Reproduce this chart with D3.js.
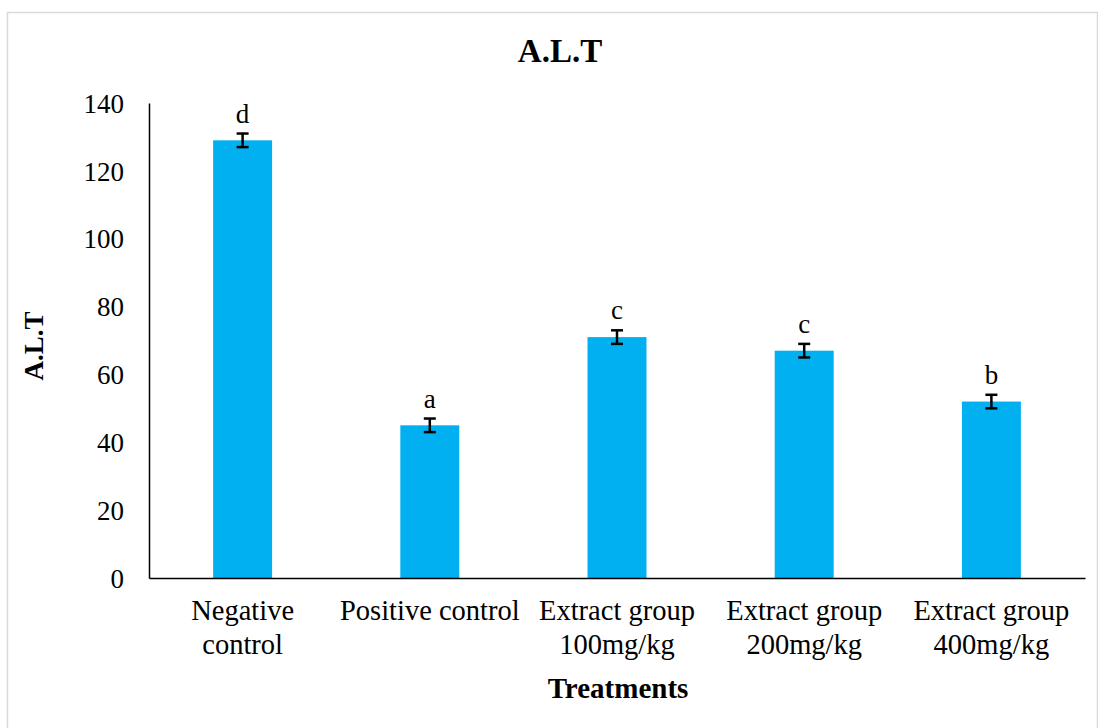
<!DOCTYPE html>
<html><head><meta charset="utf-8">
<script src="https://cdn.jsdelivr.net/npm/d3@7"></script>
<style>body{margin:0;background:#fff}svg{display:block}svg text{font-family:"Liberation Serif","Times New Roman",serif !important;fill:#000}</style>
</head><body>
<script>
const categories = [["Negative","control"],["Positive control"],["Extract group","100mg/kg"],["Extract group","200mg/kg"],["Extract group","400mg/kg"]];
const values = [129, 45, 71, 67, 52];
const errors = [2, 2, 2, 2, 2];
const letters = ["d","a","c","c","b"];
const yTicks = [0,20,40,60,80,100,120,140];
const title = "A.L.T", yTitle = "A.L.T", xTitle = "Treatments";

const W=1098,H=728;
const m={left:149,right:1085,top:103,bottom:578};
const svg=d3.select("body").append("svg").attr("width",W).attr("height",H);
svg.append("rect").attr("x",7.5).attr("y",12.5).attr("width",1090).attr("height",730)
  .attr("fill","#fff").attr("stroke","#d9d9d9").attr("stroke-width",1.5);

const idx=d3.range(values.length);
const x=d3.scaleBand().domain(idx).range([m.left,m.right]).padding(0);
const y=d3.scaleLinear().domain([0,140]).range([m.bottom,m.top]);
const bw=x.bandwidth()*0.315;
const serif='"Liberation Serif","Times New Roman",serif';

// y axis
const ya=svg.append("g").attr("transform",`translate(${m.left},0)`)
  .call(d3.axisLeft(y).tickValues(yTicks).tickSize(0).tickPadding(25));
ya.attr("font-family",null);
ya.select(".domain").attr("stroke","#000").attr("stroke-width",1.5);
ya.selectAll("text").attr("font-size",27).style("font-family",serif).attr("dy","0.34em");

// bars
svg.append("g").selectAll("rect").data(idx).join("rect")
  .attr("x",i=>x(i)+x.bandwidth()/2-bw/2).attr("width",bw)
  .attr("y",i=>y(values[i])).attr("height",i=>y(0)-y(values[i]))
  .attr("fill","#00B0F0");

// error bars
const eb=svg.append("g").attr("stroke","#000").attr("stroke-width",2.5);
idx.forEach(i=>{
  const cx=x(i)+x.bandwidth()/2;
  const t=y(values[i]+errors[i]), b=y(values[i]-errors[i]);
  eb.append("line").attr("x1",cx).attr("x2",cx).attr("y1",t).attr("y2",b);
  eb.append("line").attr("x1",cx-6).attr("x2",cx+6).attr("y1",t).attr("y2",t);
  eb.append("line").attr("x1",cx-6).attr("x2",cx+6).attr("y1",b).attr("y2",b);
});
// letters
svg.append("g").selectAll("text").data(idx).join("text")
  .attr("x",i=>x(i)+x.bandwidth()/2).attr("y",i=>y(values[i]+errors[i])-11)
  .attr("text-anchor","middle").attr("font-size",27).style("font-family",serif).text(i=>letters[i]);

// x axis
const xa=svg.append("g").attr("transform",`translate(0,${m.bottom})`)
  .call(d3.axisBottom(x).tickSize(0).tickFormat(""));
xa.attr("font-family",null);
xa.select(".domain").attr("stroke","#000").attr("stroke-width",1.5);
xa.selectAll(".tick").each(function(i){
  const t=d3.select(this).append("text").attr("text-anchor","middle").attr("font-size",28.5)
    .style("font-family",serif).attr("fill","#000");
  categories[i].forEach((s,k)=>t.append("tspan").attr("x",0).attr("y",42+k*34).text(s));
});

svg.append("text").attr("x",560).attr("y",62).attr("text-anchor","middle").style("font-family",serif)
  .attr("font-size",33).attr("font-weight","bold").text(title);
svg.append("text").attr("x",618).attr("y",698).attr("text-anchor","middle").style("font-family",serif)
  .attr("font-size",29).attr("font-weight","bold").text(xTitle);
svg.append("text").attr("transform","translate(43,346) rotate(-90)").attr("text-anchor","middle").style("font-family",serif)
  .attr("font-size",27).attr("font-weight","bold").text(yTitle);
</script>
</body></html>
